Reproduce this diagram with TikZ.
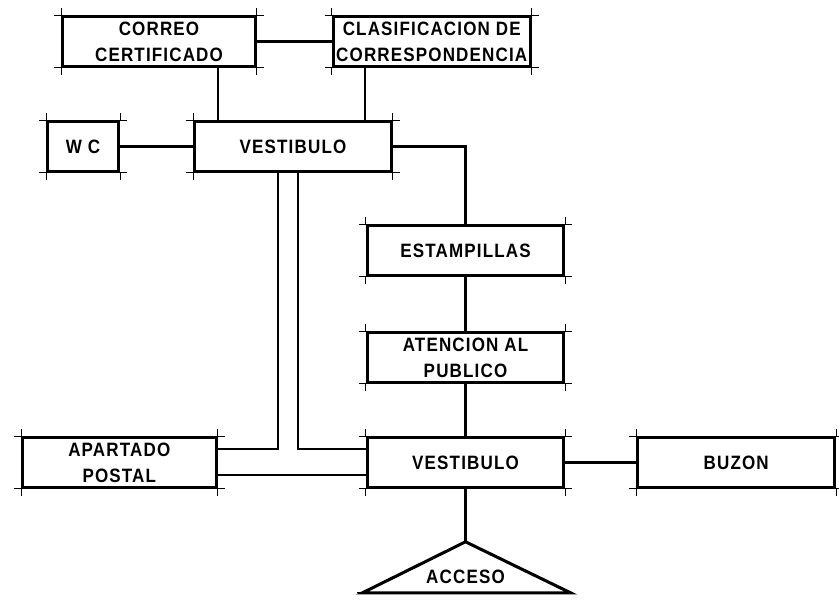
\documentclass[tikz,border=0pt]{standalone}
\usepackage{fontspec}
\newfontfamily\planfont{Liberation Sans}[LetterSpace=6,FakeStretch=0.88]
\usetikzlibrary{positioning}

% little extension marks at the corners of a box
\newcommand\cornermarks[1]{%
  \foreach \c/\dx/\dy in {north west/-1/1,north east/1/1,south west/-1/-1,south east/1/-1}
    \draw[tick] ([xshift=\dx*6pt]#1.\c) -- (#1.\c) -- ([yshift=\dy*6pt]#1.\c);}

\begin{document}
\begin{tikzpicture}[x=0.03cm,y=-0.03cm,
  font=\planfont\bfseries\fontsize{16.5}{22}\selectfont,
  room/.style={draw,line width=2.6pt,align=center,minimum height=1.48cm,minimum width=5.9cm,inner sep=1pt},
  link/.style={line width=2pt},
  gate/.style={line width=2.6pt,line join=miter},
  tick/.style={line width=0.7pt}]
\useasboundingbox (0,0) rectangle (839,600);
% upper block
\node[room,minimum width=5.78cm] (correo) at (159,41.5) {CORREO\\CERTIFICADO};
\node[room,right=2.25cm of correo] (clasif) {CLASIFICACION DE\\CORRESPONDENCIA};
\node[room] (vesta) at (293,146.5) {VESTIBULO};
\node[room,minimum width=2.13cm,left=2.19cm of vesta] (wc) {W C};
% public column
\node[room] (estamp) at (465.5,250.5) {ESTAMPILLAS};
\node[room,below=1.64cm of estamp] (atencion) {ATENCION AL\\PUBLICO};
\node[room,below=1.58cm of atencion] (vestb) {VESTIBULO};
\node[room,right=2.13cm of vestb] (buzon) {BUZON};
\node[room,minimum width=5.81cm,left=4.44cm of vestb] (apartado) {APARTADO\\POSTAL};
\coordinate[below=1.59cm of vestb] (apex);
\node (acceso) at ([yshift=-1.05cm]apex) {ACCESO};
\draw[gate] (apex) -- ++(-103,51) -- ++(208,0) -- cycle;
\draw[tick] ([xshift=-103*0.03cm-5pt,yshift=-51*0.03cm]apex) -- ++(6pt,0);
\foreach \n in {correo,clasif,vesta,wc,estamp,atencion,vestb,buzon,apartado}
  \cornermarks{\n}
% connectors
\draw[link] (correo.east) -- (clasif.west);
\draw[link] (wc) -- (vesta);
\draw[link] ([xshift=1.77cm]correo.south) -- ([xshift=1.77cm]correo.south |- vesta.north);
\draw[link] ([xshift=-2.01cm]clasif.south) -- ([xshift=-2.01cm]clasif.south |- vesta.north);
\draw[link] (vesta.east) -| (estamp.north);
\draw[link] (estamp) -- (atencion);
\draw[link] (atencion) -- (vestb);
\draw[link] (vestb) -- (buzon);
\draw[link] (vestb.south) -- (apex);
\draw[link] ([xshift=-0.45cm]vesta.south) |- ([yshift=0.4cm]apartado.east);
\draw[link] ([xshift=0.15cm]vesta.south) |- ([yshift=0.4cm]vestb.west);
\draw[link] ([yshift=-0.38cm]apartado.east) -- ([yshift=-0.38cm]vestb.west);
\end{tikzpicture}
\end{document}
